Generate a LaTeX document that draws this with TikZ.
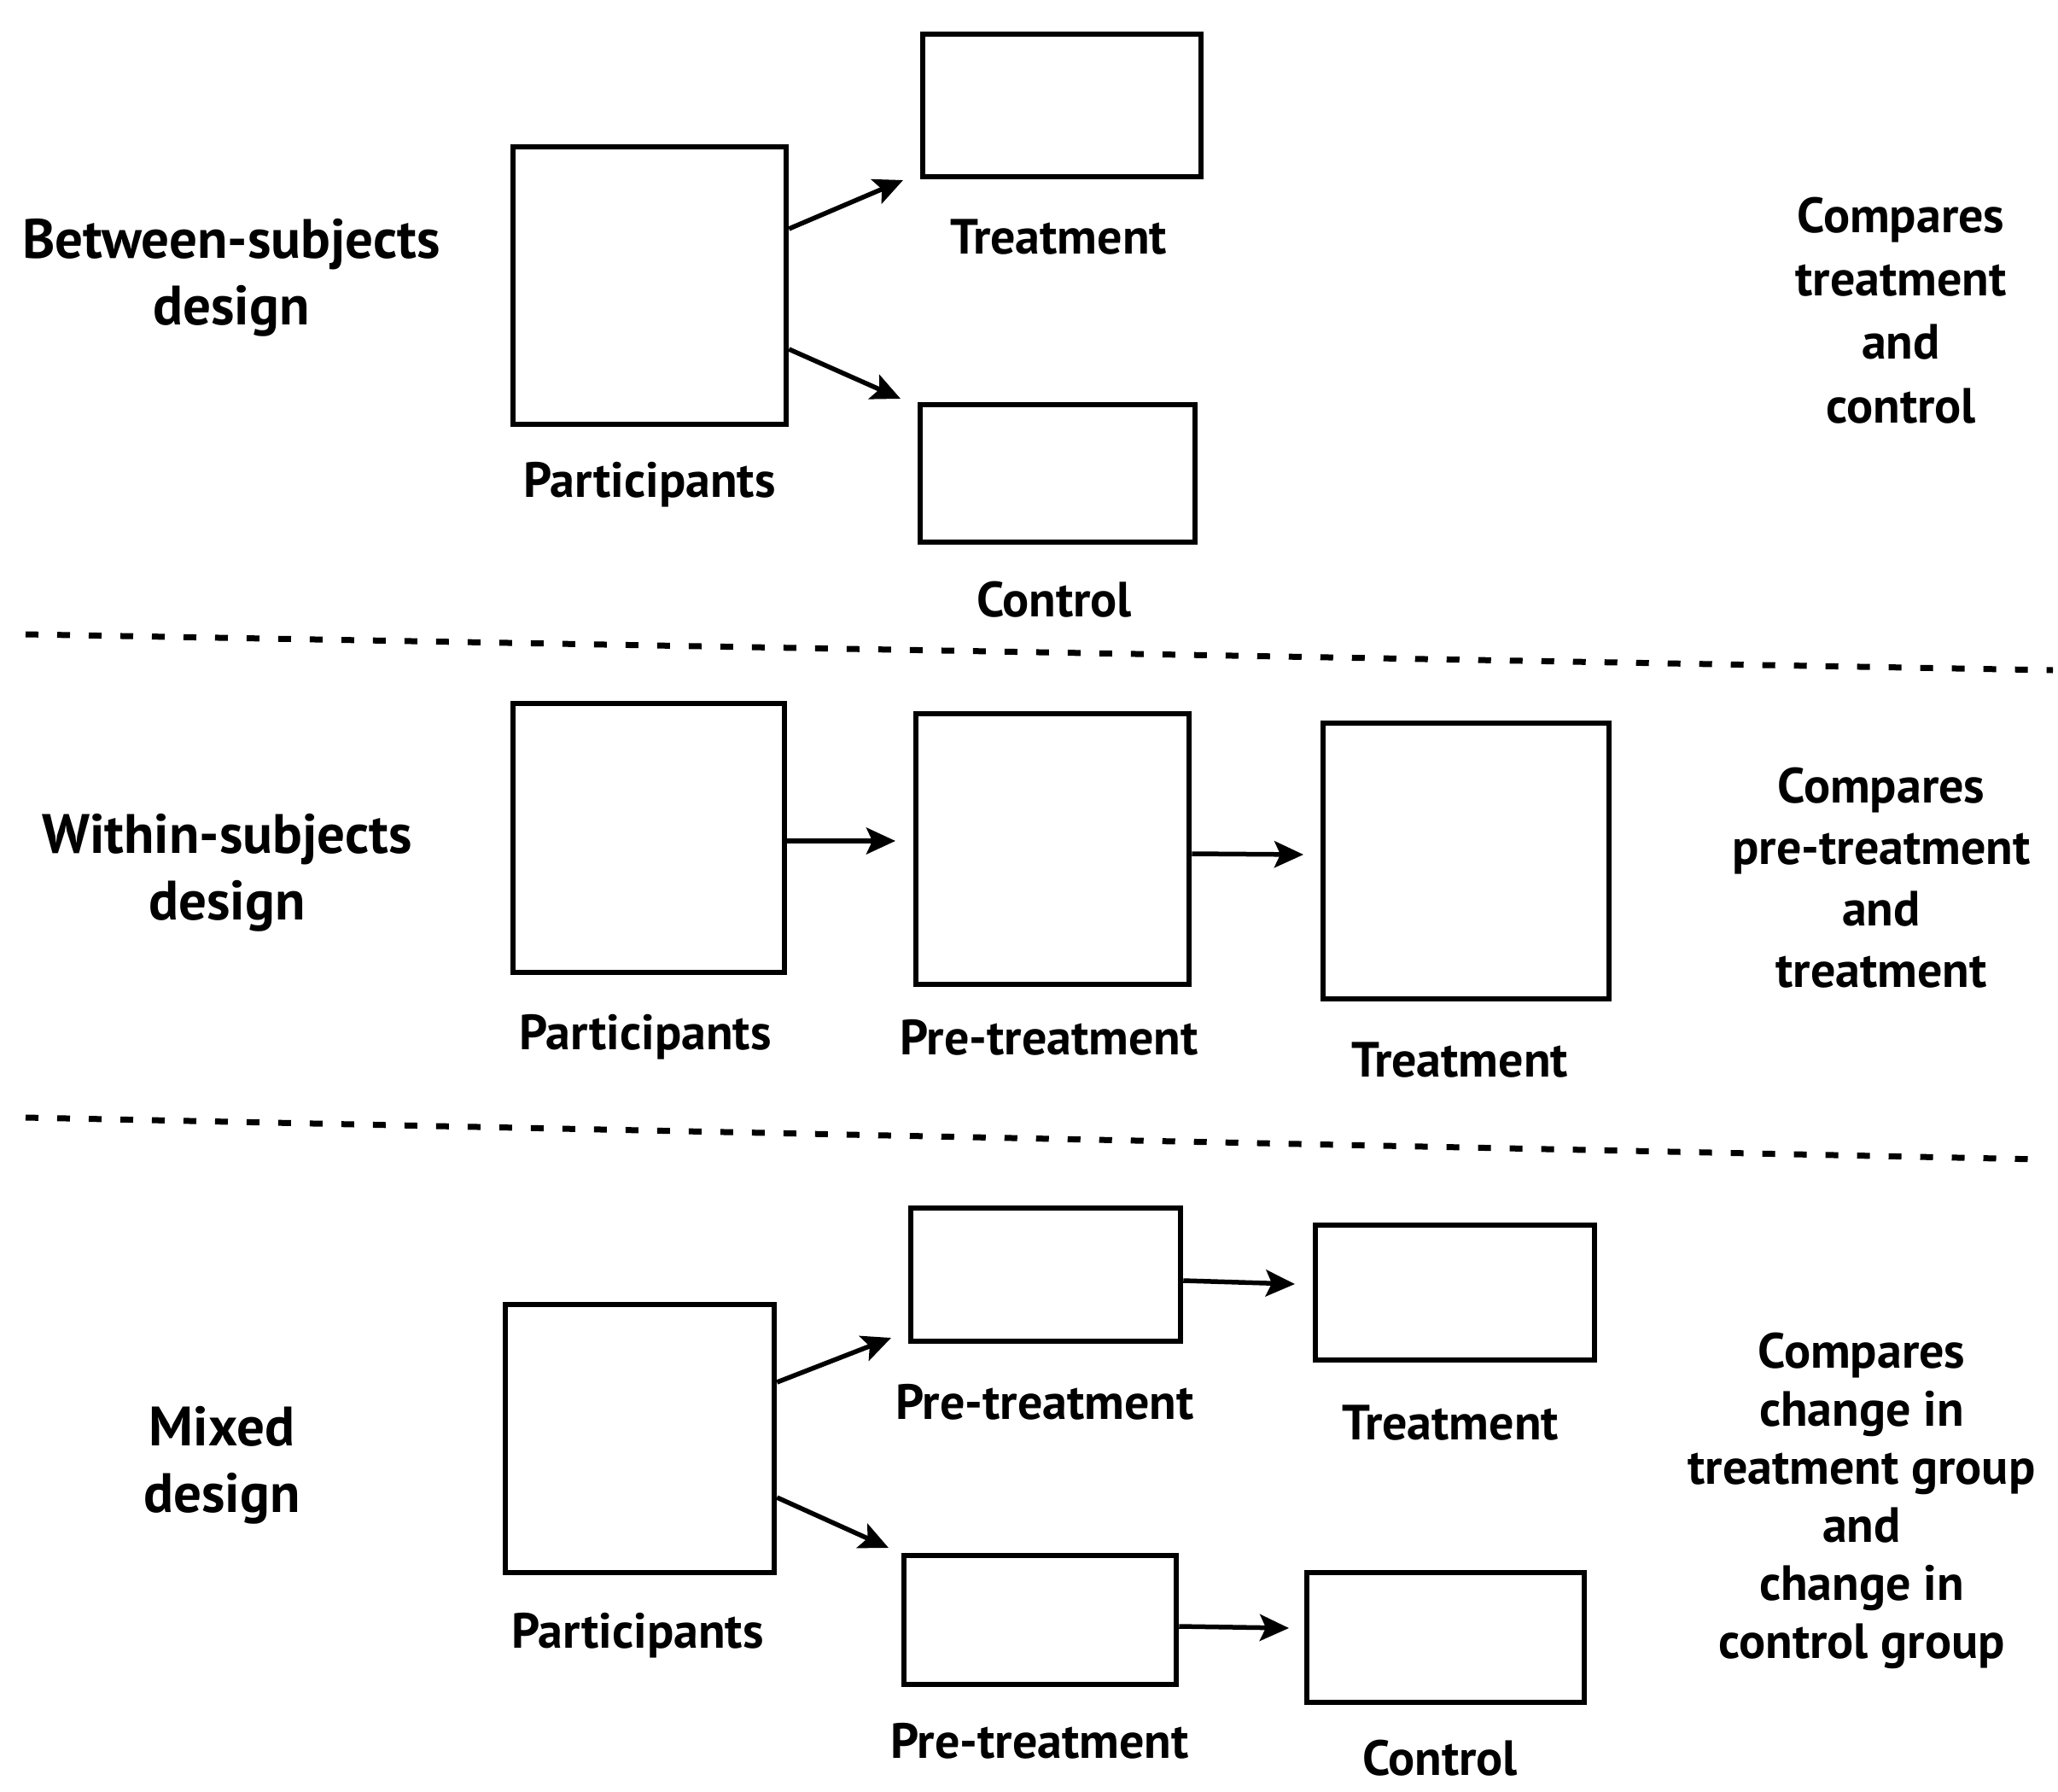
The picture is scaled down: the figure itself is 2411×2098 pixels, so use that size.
\documentclass[tikz,border=0pt]{standalone}
\usepackage{fontspec}
\setmainfont{PT Sans}
\usetikzlibrary{arrows.meta}
\begin{document}
\begin{tikzpicture}[x=1pt,y=-1pt,
  box/.style={draw,line width=6.5pt,inner sep=0pt},
  arr/.style={line width=5.5pt,-{Stealth[length=34pt,width=31pt,inset=7pt]}},
  lbl/.style={anchor=base,inner sep=0pt,font=\bfseries\fontsize{58}{70}\selectfont},
  side/.style={anchor=base,inner sep=0pt,align=center,font=\bfseries\fontsize{65}{78}\selectfont},
  note/.style={anchor=base,inner sep=0pt,align=center},
  sep/.style={line width=7pt,dash pattern=on 15pt off 22pt}]
\useasboundingbox[fill=white] (0,0) rectangle (2411,2098);

% separators
\coordinate (l1a) at (30,743);  \coordinate (l1b) at (2405,785);
\coordinate (l2a) at (30,1309); \coordinate (l2b) at (2390,1358);
\draw[sep] (l1a) -- (l1b);
\draw[sep] (l2a) -- (l2b);

% ---------- Between-subjects ----------
\node[side] (lab1) at (271,380) {Between-subjects\\design};
\node[box,minimum width=320pt,minimum height=325pt] (P1) at (761,334.5) {};
\node[box,minimum width=326pt,minimum height=167pt] (T1) at (1244,123.5) {};
\node[box,minimum width=322pt,minimum height=161pt] (C1) at (1239,554.5) {};
\node[lbl] (P1t) at (761,582) {Participants};
\node[lbl] (T1t) at (1240,297) {Treatment};
\node[lbl] (C1t) at (1235,722) {Control};
\coordinate (e1a) at (1058,211);
\coordinate (e1b) at (1055,467);
\draw[arr] ([yshift=66.5pt]P1.east) -- (e1a);
\draw[arr] ([yshift=-74.5pt]P1.east) -- (e1b);
\node[note,font=\bfseries\fontsize{58}{74.3}\selectfont] (n1) at (2227,495) {Compares\\treatment\\and\\control};

% ---------- Within-subjects ----------
\node[side] (lab2) at (266,1077) {Within-subjects\\design};
\node[box,minimum width=318pt,minimum height=315pt] (P2) at (760,981.5) {};
\node[box,minimum width=320pt,minimum height=317pt] (PT2) at (1233,994.5) {};
\node[box,minimum width=335pt,minimum height=323pt] (T2) at (1717.5,1008.5) {};
\node[lbl] (P2t) at (756,1229) {Participants};
\node[lbl] (PT2t) at (1229,1235) {Pre-treatment};
\node[lbl] (T2t) at (1710,1261) {Treatment};
\coordinate (e2a) at (1049,985);
\coordinate (e2b) at (1527,1001);
\draw[arr] ([yshift=-3.5pt]P2.east) -- (e2a);
\draw[arr] ([yshift=-5.5pt]PT2.east) -- (e2b);
\node[note,font=\bfseries\fontsize{58}{71.7}\selectfont] (n2) at (2204,1156) {Compares\\pre-treatment\\and\\treatment};

% ---------- Mixed ----------
\node[side] (lab3) at (260,1771) {Mixed\\design};
\node[box,minimum width=315pt,minimum height=314pt] (P3) at (749.5,1685) {};
\node[box,minimum width=316pt,minimum height=156pt] (PTa) at (1225,1493) {};
\node[box,minimum width=327pt,minimum height=158pt] (Ta) at (1704.5,1514) {};
\node[box,minimum width=319pt,minimum height=151pt] (PTb) at (1218.5,1897.5) {};
\node[box,minimum width=325pt,minimum height=152pt] (Cb) at (1693.5,1918) {};
\node[lbl] (P3t) at (747,1930) {Participants};
\node[lbl] (PTat) at (1224,1662) {Pre-treatment};
\node[lbl] (Tat) at (1699,1686) {Treatment};
\node[lbl] (PTbt) at (1218,2059) {Pre-treatment};
\node[lbl] (Cbt) at (1687,2079) {Control};
\coordinate (e3a) at (1044,1567);
\coordinate (e3b) at (1041,1813);
\coordinate (e3c) at (1517,1504);
\coordinate (e3d) at (1510,1907);
\draw[arr] ([yshift=66pt]P3.east) -- (e3a);
\draw[arr] ([yshift=-69pt]P3.east) -- (e3b);
\draw[arr] ([yshift=-7pt]PTa.east) -- (e3c);
\draw[arr] ([yshift=-7.5pt]PTb.east) -- (e3d);
\node[note,font=\bfseries\fontsize{58}{68}\selectfont] (n3) at (2181,1942) {Compares\\change in\\treatment group\\and\\change in\\control group};
\end{tikzpicture}
\end{document}
